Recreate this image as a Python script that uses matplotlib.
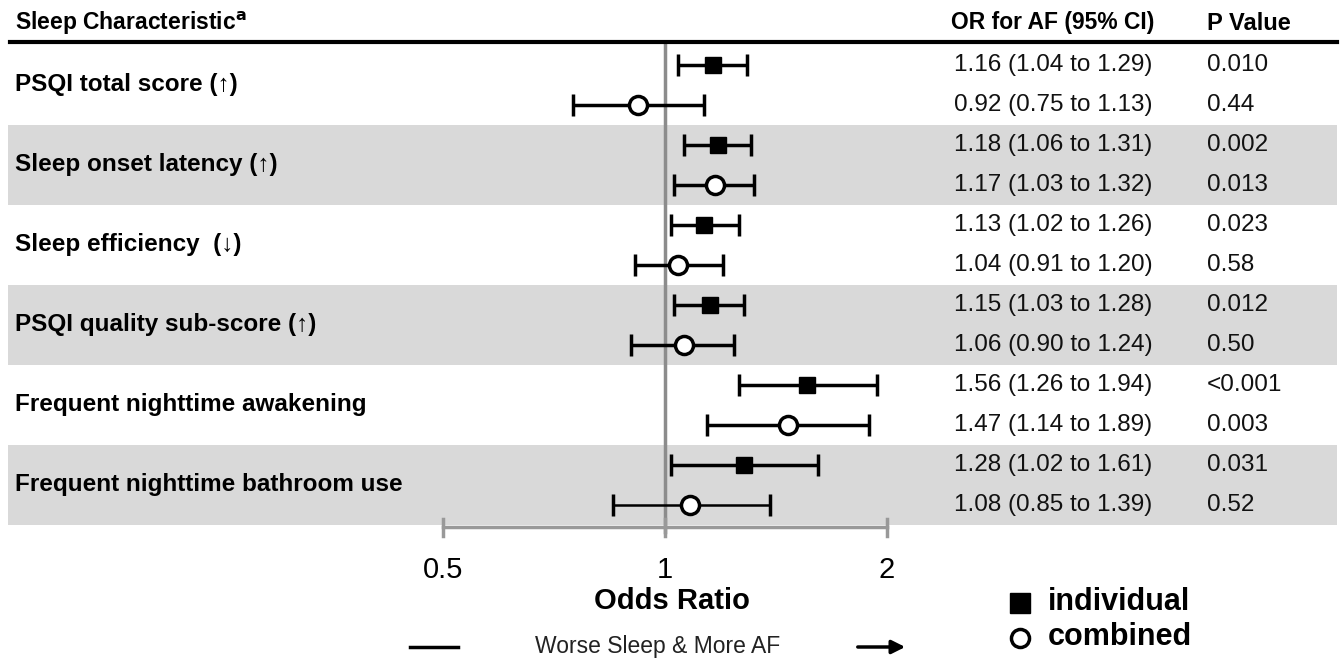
import numpy as np
import matplotlib.pyplot as plt
from matplotlib.transforms import blended_transform_factory

plt.rcParams['font.family'] = ['Liberation Sans', 'DejaVu Sans']

# data
characteristics = ["PSQI total score (\u2191)", "Sleep onset latency (\u2191)",
                   "Sleep efficiency  (\u2193)", "PSQI quality sub-score (\u2191)",
                   "Frequent nighttime awakening", "Frequent nighttime bathroom use"]
or_individual = [1.16, 1.18, 1.13, 1.15, 1.56, 1.28]
lo_individual = [1.04, 1.06, 1.02, 1.03, 1.26, 1.02]
hi_individual = [1.29, 1.31, 1.26, 1.28, 1.94, 1.61]
p_individual = ["0.010", "0.002", "0.023", "0.012", "<0.001", "0.031"]
or_combined = [0.92, 1.17, 1.04, 1.06, 1.47, 1.08]
lo_combined = [0.75, 1.03, 0.91, 0.90, 1.14, 0.85]
hi_combined = [1.13, 1.32, 1.20, 1.24, 1.89, 1.39]
p_combined = ["0.44", "0.013", "0.58", "0.50", "0.003", "0.52"]
ticks = [0.5, 1, 2]

W, H = 1342, 662
fig = plt.figure(figsize=(W / 100, H / 100), dpi=100)
ax = fig.add_axes([0, 0, 1, 1])
ax.set_xscale('log', base=2)
# pixel x = 665 + 222*log2(OR); row i at pixel y = 65 + 40*i
ax.set_xlim(2 ** (-665 / 222), 2 ** ((W - 665) / 222))
ax.set_ylim((H - 65) / 40, -65 / 40)
ax.axis('off')

def px(x):
    return x / W

def rowy(p):
    return (p - 65) / 40

tr = blended_transform_factory(ax.transAxes, ax.transData)

# shaded bands
for g in [1, 3, 5]:
    ax.axhspan(2 * g - 0.5, 2 * g + 1.5, xmin=px(8), xmax=px(1337),
               color='#d9d9d9', zorder=0, lw=0)

# header
ax.plot([px(10), px(1337)], [rowy(42)] * 2, transform=tr, color='black', lw=3, zorder=2)
ax.text(px(15), rowy(23), "Sleep Characteristic$^{\\mathbf{a}}$", transform=tr,
        fontsize=16.5, fontweight='bold', va='center', ha='left')
ax.text(px(1053), rowy(23), "OR for AF (95% CI)", transform=tr,
        fontsize=16.5, fontweight='bold', va='center', ha='center')
ax.text(px(1207), rowy(23), "P Value", transform=tr,
        fontsize=17, fontweight='bold', va='center', ha='left')

# reference line
ax.plot([1, 1], [rowy(42), rowy(532)], color='#8c8c8c', lw=2.5, zorder=1)

# bottom axis
ax.plot([ticks[0], ticks[-1]], [rowy(527)] * 2, color='#999999', lw=2.5, zorder=1)
for t in ticks:
    ax.plot([t, t], [rowy(519), rowy(536)], color='#999999', lw=2.5, zorder=1)
    ax.text(t, rowy(570), "%g" % t, fontsize=21, ha='center', va='center')
ax.text(672 / W, rowy(601), "Odds Ratio", transform=tr, fontsize=21,
        fontweight='bold', ha='center', va='center')

# direction note
ax.plot([px(410), px(458)], [rowy(647)] * 2, transform=tr, color='black', lw=2.5)
ax.text(px(658), rowy(647), "Worse Sleep & More AF", transform=tr, fontsize=16.5,
        ha='center', va='center', color='#222222')
ax.annotate("", xy=(px(908), rowy(647)), xytext=(px(855), rowy(647)),
            xycoords=tr, textcoords=tr,
            arrowprops=dict(arrowstyle='-|>', color='black', lw=2.5, mutation_scale=20))

# rows
for k, name in enumerate(characteristics):
    yi = 2 * k
    yc = 2 * k + 1
    ax.text(px(15), yi + 0.5, name, transform=tr, fontsize=17.5,
            fontweight='bold', ha='left', va='center')
    ax.errorbar(or_individual[k], yi,
                xerr=[[or_individual[k] - lo_individual[k]], [hi_individual[k] - or_individual[k]]],
                fmt='s', color='black', ms=12, elinewidth=2.5, capsize=8, capthick=2.5, zorder=3)
    lw = 1.8 if k == 5 else 2.5
    ax.errorbar(or_combined[k], yc,
                xerr=[[or_combined[k] - lo_combined[k]], [hi_combined[k] - or_combined[k]]],
                fmt='o', color='black', mfc='white', mec='black', mew=2.5, ms=13,
                elinewidth=lw, capsize=8, capthick=lw, zorder=3)
    ax.text(px(1053), yi, "%.2f (%.2f to %.2f)" % (or_individual[k], lo_individual[k], hi_individual[k]),
            transform=tr, fontsize=17.5, ha='center', va='center', color='#111111')
    ax.text(px(1053), yc, "%.2f (%.2f to %.2f)" % (or_combined[k], lo_combined[k], hi_combined[k]),
            transform=tr, fontsize=17.5, ha='center', va='center', color='#111111')
    ax.text(px(1207), yi, p_individual[k], transform=tr, fontsize=17.5,
            ha='left', va='center', color='#111111')
    ax.text(px(1207), yc, p_combined[k], transform=tr, fontsize=17.5,
            ha='left', va='center', color='#111111')

# legend
ax.plot([px(1020)], [rowy(603)], transform=tr, marker='s', color='black', ms=14, ls='none')
ax.plot([px(1020)], [rowy(638)], transform=tr, marker='o', mfc='white', mec='black',
        mew=2.5, ms=13, ls='none')
ax.text(px(1048), rowy(602), "individual", transform=tr, fontsize=22,
        fontweight='bold', ha='left', va='center')
ax.text(px(1048), rowy(637), "combined", transform=tr, fontsize=22,
        fontweight='bold', ha='left', va='center')

fig.savefig('out.png', dpi=100)
